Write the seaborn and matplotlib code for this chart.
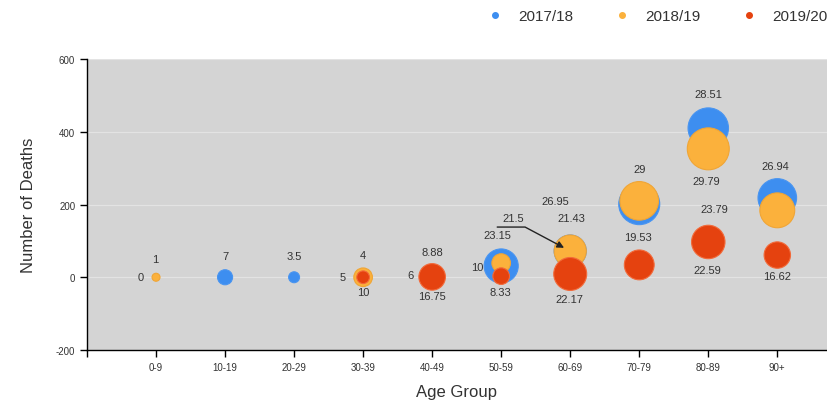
import numpy as np
import pandas as pd
import matplotlib
matplotlib.use("Agg")
import matplotlib.pyplot as plt
import seaborn as sns
from matplotlib.lines import Line2D

# === Data ===
age_groups = ["0-9", "10-19", "20-29", "30-39", "40-49",
              "50-59", "60-69", "70-79", "80-89", "90+"]
seasons = ["2017/18", "2018/19", "2019/20"]

deaths_1718 = [0, 0, 0, 0, 0, 31, 72, 201, 410, 218]
bubble_1718 = [0, 7, 3.5, 4, 6, 23.15, 21.5, 29, 28.51, 26.94]

deaths_1819 = [0, np.nan, np.nan, 0, 0, 39, 72, 210, 353, 184]
bubble_1819 = [1, np.nan, np.nan, 10, 8.88, 10, 21.43, 26.95, 29.79, 23.79]

deaths_1920 = [np.nan, np.nan, np.nan, 0, 1, 3, 9, 34, 97, 61]
bubble_1920 = [np.nan, np.nan, np.nan, 5, 16.75, 8.33, 22.17, 19.53, 22.59, 16.62]

# label offsets in pixels (dx, dy up) for each bubble label
offsets_1718 = [(-15, 0), (0, 21), (0, 21), (0, 22), (-22, 2), (-4, 31),
                None, (0, 35), (0, 34), (-2, 32)]
offsets_1819 = [(-1, 18), None, None, (0, -15), (0, 25), (-24, -4),
                (1, 33), (-84, 0), (-2, -32), (-63, 1)]
offsets_1920 = [None, None, None, (-20, 0), (0, -19), (-1, -16),
                (-1, -25), (-1, 28), (-1, -28), (0, -21)]

colors = {"2017/18": "#3d8ef0", "2018/19": "#fbb13c", "2019/20": "#e5420f"}
edges = {"2017/18": "#4a95f0", "2018/19": "#f0a535", "2019/20": "#f26a3a"}

PX = 0.72  # points per pixel at dpi 100


def bubble_area(v):
    # radius grows linearly with the bubble value
    if np.isnan(v) or v <= 0:
        return 0.0
    r_px = 3.4 + 0.59 * v
    return (2 * r_px * PX) ** 2


rows = []
for season, deaths, bubble, offs in [
    ("2017/18", deaths_1718, bubble_1718, offsets_1718),
    ("2018/19", deaths_1819, bubble_1819, offsets_1819),
    ("2019/20", deaths_1920, bubble_1920, offsets_1920),
]:
    for i, grp in enumerate(age_groups):
        if np.isnan(deaths[i]):
            continue
        rows.append({"season": season, "pos": i + 1, "group": grp,
                     "deaths": deaths[i], "bubble": bubble[i],
                     "area": bubble_area(bubble[i]), "off": offs[i]})
df = pd.DataFrame(rows)

# === Plot ===
sns.set_style("ticks", {"axes.facecolor": "#d4d4d4"})
plt.rcParams["font.family"] = ["Liberation Sans", "DejaVu Sans"]
plt.rcParams["axes.unicode_minus"] = False

fig = plt.figure(figsize=(8.27, 4.06), dpi=100)
ax = fig.add_axes([87 / 827, 55 / 406, 1 - 87 / 827, 291 / 406])

A_MAX = df["area"].max()
for season in seasons:
    sub = df[df["season"] == season]
    sns.scatterplot(data=sub, x="pos", y="deaths", size="area",
                    sizes=(0, A_MAX), size_norm=(0, A_MAX),
                    color=colors[season], edgecolor=edges[season],
                    linewidth=0.8, alpha=1, legend=False, ax=ax, zorder=3)

# data labels
for _, r in df.iterrows():
    if r["off"] is None:
        continue
    dx, dy = r["off"]
    lbl = f"{r['bubble']:g}"
    ax.annotate(lbl, (r["pos"], r["deaths"]), xytext=(dx * PX, dy * PX),
                textcoords="offset points", ha="center", va="center",
                fontsize=8, color="#333333", zorder=5)

# callout for the hidden 2017/18 bubble in 60-69 (underlined label + arrow)
hid = df[(df["season"] == "2017/18") & (df["group"] == "60-69")].iloc[0]
ax.annotate(f"{hid['bubble']:g}", (hid["pos"], hid["deaths"]),
            xytext=(-57 * PX, 33 * PX), textcoords="offset points",
            ha="center", va="center", fontsize=8, color="#333333", zorder=6)
ax.annotate("", (hid["pos"], hid["deaths"]),
            xytext=(-73 * PX, 24 * PX), textcoords="offset points",
            arrowprops=dict(arrowstyle="-|>", color="#222222", lw=1.0,
                            shrinkA=0, shrinkB=5,
                            connectionstyle="angle,angleA=0,angleB=-28,rad=0"),
            zorder=6)

ax.set_xlim(0, 10.72)
ax.set_ylim(-200, 600)
ax.set_xticks(range(0, 11))
ax.set_xticklabels([""] + age_groups)
ax.set_yticks([-200, 0, 200, 400, 600])
ax.tick_params(axis="both", labelsize=7, colors="#000000", length=5, width=1,
               labelcolor="#333333")
ax.yaxis.grid(True, color="#e3e3e3", lw=0.9)
ax.set_axisbelow(True)
for s in ["top", "right"]:
    ax.spines[s].set_visible(False)
for s in ["left", "bottom"]:
    ax.spines[s].set_color("#000000")
    ax.spines[s].set_linewidth(1.0)

ax.set_xlabel("Age Group", fontsize=12, color="#333333", labelpad=9)
ax.set_ylabel("Number of Deaths", fontsize=12, color="#333333", labelpad=14)

handles = [Line2D([0], [0], marker="o", ls="", color=colors[s],
                  markersize=4) for s in seasons]
fig.legend(handles, seasons, loc="center left", ncol=3, frameon=False,
           bbox_to_anchor=(480 / 827, 1 - 17 / 406), fontsize=11,
           borderpad=0, handlelength=1.0, handletextpad=1.0,
           columnspacing=2.7, labelcolor="#333333")

fig.savefig("out.png", dpi=100, facecolor="white")
